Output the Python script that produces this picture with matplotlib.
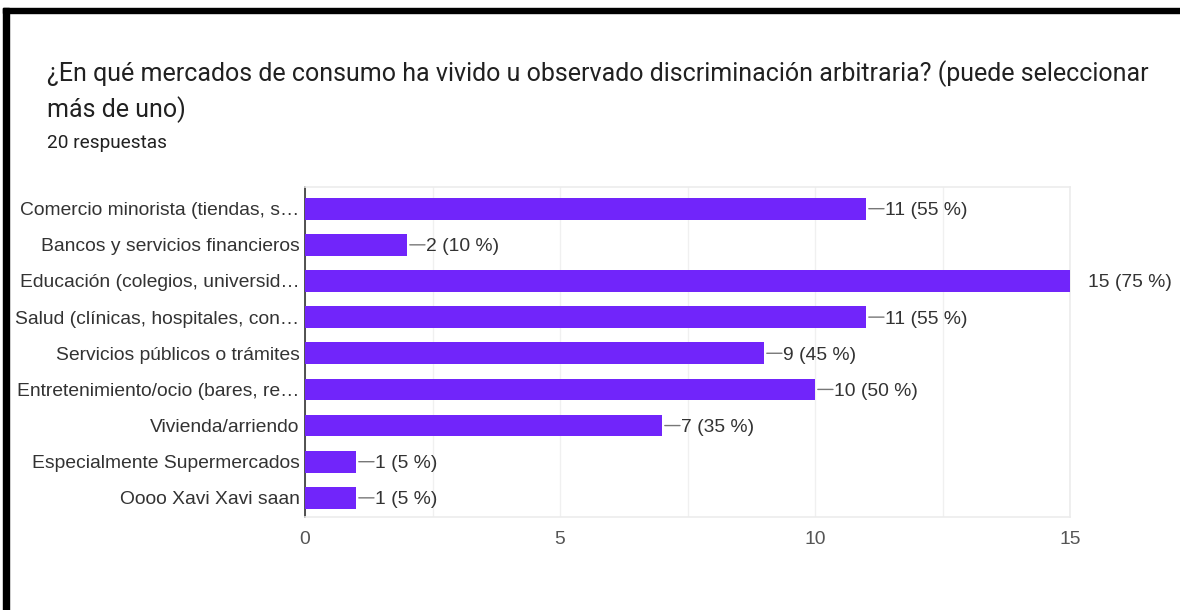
import matplotlib
matplotlib.use("Agg")
import matplotlib.pyplot as plt
from matplotlib.patches import Rectangle

plt.rcParams['font.family'] = ['Roboto', 'DejaVu Sans']
ARIAL = ['Liberation Sans', 'DejaVu Sans']

categories = [
    "Comercio minorista (tiendas, s…",
    "Bancos y servicios financieros",
    "Educación (colegios, universid…",
    "Salud (clínicas, hospitales, con…",
    "Servicios públicos o trámites",
    "Entretenimiento/ocio (bares, re…",
    "Vivienda/arriendo",
    "Especialmente Supermercados",
    "Oooo Xavi Xavi saan",
]
counts = [11, 2, 15, 11, 9, 10, 7, 1, 1]
total = 20
xticks = [0, 5, 10, 15]
minor_ticks = [2.5, 7.5, 12.5]

title_1 = "¿En qué mercados de consumo ha vivido u observado discriminación arbitraria? (puede seleccionar"
title_2 = "más de uno)"
subtitle = "20 respuestas"

W, H = 1180, 610
fig = plt.figure(figsize=(W / 100, H / 100), dpi=100)
fig.patch.set_facecolor("white")

def fx(px):
    return px / W

def fy(py):
    return 1 - py / H

ax = fig.add_axes([fx(305), fy(517), fx(1070) - fx(305), (517 - 187) / H])

bar_color = "#7125fa"
FS = 13.9
ypos = list(range(len(categories)))
ax.barh(ypos, counts, height=0.6, color=bar_color, zorder=3)
ax.set_ylim(len(categories) - 0.47, -0.6)
ax.set_xlim(0, 15)

ax.set_yticks(ypos)
ax.set_yticklabels(categories, fontsize=FS, color="#333333", family=ARIAL)
ax.set_xticks(xticks)
ax.set_xticklabels([str(t) for t in xticks], fontsize=FS, color="#555555", family=ARIAL)
ax.set_xticks(minor_ticks, minor=True)
ax.tick_params(axis="y", length=0, pad=4)
ax.tick_params(axis="x", which="both", length=0, pad=10)
ax.grid(axis="x", which="both", color="#f0f0f0", linewidth=1, zorder=0)

for side in ["top", "right", "bottom"]:
    ax.spines[side].set_color("#ececec")
    ax.spines[side].set_linewidth(1.2)
ax.spines["left"].set_color("#333333")
ax.spines["left"].set_linewidth(1.2)

xmax = ax.get_xlim()[1]
for y, c in zip(ypos, counts):
    label = f"{c} ({c / total * 100:.0f} %)"
    if c < xmax:
        ax.annotate("", xy=(c, y), xytext=(18, 0), textcoords="offset pixels",
                    xycoords="data",
                    arrowprops=dict(arrowstyle="-", color="#777777", lw=1,
                                    shrinkA=0, shrinkB=2),
                    annotation_clip=False)
        ax.annotate(label, xy=(c, y), xytext=(19, 0), textcoords="offset pixels",
                    va="center_baseline", ha="left", fontsize=FS, color="#333333",
                    family=ARIAL, annotation_clip=False)
    else:
        ax.annotate(label, xy=(c, y), xytext=(18, 0), textcoords="offset pixels",
                    va="center_baseline", ha="left", fontsize=FS, color="#333333",
                    family=ARIAL, annotation_clip=False)

fig.text(fx(47), fy(81), title_1, fontsize=18, color="#212121", va="baseline", ha="left")
fig.text(fx(47), fy(117), title_2, fontsize=18, color="#212121", va="baseline", ha="left")
fig.text(fx(47), fy(148), subtitle, fontsize=13.7, color="#212121", va="baseline", ha="left")

# black frame (screenshot border)
fig.patches.append(Rectangle((fx(3), fy(13)), fx(1180) - fx(3), 5 / H,
                             transform=fig.transFigure, color="black", zorder=10))
fig.patches.append(Rectangle((fx(3), 0), 6 / W, fy(8),
                             transform=fig.transFigure, color="black", zorder=10))

fig.savefig("out.png", dpi=100, facecolor="white")
